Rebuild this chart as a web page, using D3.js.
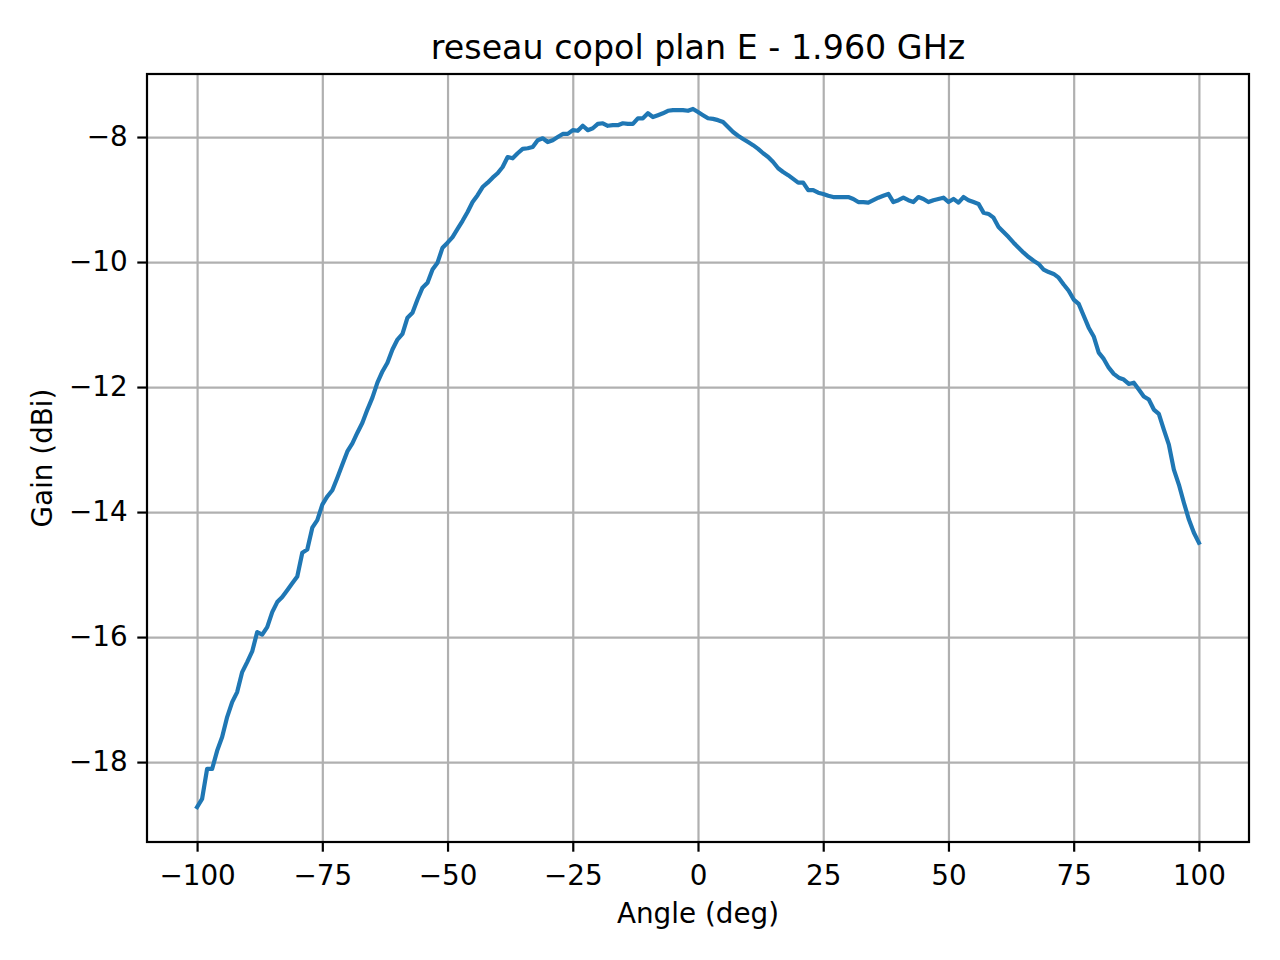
<!DOCTYPE html>
<html>
<head>
 <meta charset="UTF-8">
 <title>reseau copol plan E - 1.960 GHz</title>
 <script src="https://cdn.jsdelivr.net/npm/d3@7"></script>
 <style>
body {
  margin: 0;
  background: #fff;
}
svg {
  display: block;
  font-family: "DejaVu Sans", sans-serif;
}
.grid line {
  stroke: #b0b0b0;
  stroke-width: 2.2px;
}
.grid path {
  display: none;
}
.axis path {
  display: none;
}
.axis line {
  stroke: #000;
  stroke-width: 2.2px;
}
.axis text {
  font-family: "DejaVu Sans", sans-serif;
  font-size: 27.8px;
  fill: #000;
}
.curve {
  fill: none;
  stroke: #1f77b4;
  stroke-width: 4.2px;
  stroke-linejoin: round;
  stroke-linecap: square;
}
 </style>
</head>

<body>
 <svg id="chart" width="1280" height="960"></svg>
</body>

<script>
// angles mesurés, pas de 1 degré
var angles = d3.range(-100, 101);
// gain relevé (dBi)
var gain = [
  -18.72, -18.59, -18.11, -18.11, -17.82, -17.60, -17.28, -17.04, -16.88, -16.56,
  -16.40, -16.23, -15.92, -15.96, -15.84, -15.60, -15.44, -15.36, -15.25, -15.14,
  -15.03, -14.65, -14.60, -14.25, -14.13, -13.88, -13.75, -13.65, -13.45, -13.24,
  -13.03, -12.90, -12.73, -12.57, -12.36, -12.17, -11.93, -11.75, -11.61, -11.40,
  -11.24, -11.15, -10.89, -10.81, -10.60, -10.41, -10.33, -10.12, -10.01, -9.77,
  -9.69, -9.60, -9.47, -9.34, -9.20, -9.04, -8.93, -8.80, -8.73, -8.65,
  -8.58, -8.48, -8.32, -8.34, -8.26, -8.19, -8.18, -8.16, -8.05, -8.02,
  -8.08, -8.05, -8.00, -7.95, -7.95, -7.89, -7.90, -7.82, -7.89, -7.86,
  -7.79, -7.78, -7.82, -7.81, -7.81, -7.78, -7.79, -7.79, -7.70, -7.70,
  -7.62, -7.68, -7.65, -7.62, -7.58, -7.57, -7.57, -7.57, -7.58, -7.55,
  -7.60,
  -7.65, -7.70, -7.71, -7.73, -7.76, -7.84, -7.92, -7.98, -8.03, -8.08,
  -8.13, -8.19, -8.26, -8.32, -8.40, -8.50, -8.56, -8.61, -8.67, -8.73,
  -8.73, -8.85, -8.85, -8.89, -8.91, -8.94, -8.96, -8.96, -8.96, -8.96,
  -8.99, -9.04, -9.04, -9.05, -9.01, -8.97, -8.94, -8.91, -9.04, -9.01,
  -8.97, -9.01, -9.04, -8.96, -8.99, -9.04, -9.01, -8.99, -8.97, -9.04,
  -8.99, -9.05, -8.96, -9.01, -9.04, -9.07, -9.21, -9.23, -9.29, -9.44,
  -9.52, -9.60, -9.69, -9.77, -9.85, -9.92, -9.98, -10.03, -10.12, -10.16,
  -10.19, -10.25, -10.36, -10.46, -10.60, -10.67, -10.86, -11.05, -11.19, -11.45,
  -11.55, -11.69, -11.79, -11.85, -11.88, -11.95, -11.93, -12.04, -12.15, -12.20,
  -12.36, -12.43, -12.68, -12.92, -13.32, -13.56, -13.85, -14.12, -14.33, -14.49
];
var xTicks = [-100, -75, -50, -25, 0, 25, 50, 75, 100];
var yTicks = [-18, -16, -14, -12, -10, -8];

function drawChart(){
  var x0 = 147, x1 = 1249, y0 = 74, y1 = 842,
    svg = d3.select("#chart"),
    fmt = function(d){ return d < 0 ? "\u2212" + Math.abs(d) : String(d); };

  var pad = 0.05 * (d3.max(gain) - d3.min(gain)),
    xscale = d3.scaleLinear()
      .domain([-110, 110])
      .range([x0, x1]),
    yscale = d3.scaleLinear()
      .domain([d3.min(gain) - pad, d3.max(gain) + pad])
      .range([y1, y0]);

  // grille
  svg.append("g")
    .attr("class", "grid")
    .attr("transform", "translate(0," + y1 + ")")
    .call(d3.axisBottom(xscale).tickValues(xTicks).tickSize(-(y1 - y0)).tickFormat(""));
  svg.append("g")
    .attr("class", "grid")
    .attr("transform", "translate(" + x0 + ",0)")
    .call(d3.axisLeft(yscale).tickValues(yTicks).tickSize(-(x1 - x0)).tickFormat(""));

  svg.append("path")
    .attr("class", "curve")
    .attr("d", d3.line()
      .x(function(d, i){ return xscale(angles[i]); })
      .y(function(d){ return yscale(d); })
      (gain)
    );

  // cadre
  svg.append("rect")
    .attr("x", x0)
    .attr("y", y0)
    .attr("width", x1 - x0)
    .attr("height", y1 - y0)
    .attr("fill", "none")
    .attr("stroke", "#000")
    .attr("stroke-width", 2.2);

  svg.append("g")
    .attr("class", "axis")
    .attr("transform", "translate(0," + y1 + ")")
    .call(d3.axisBottom(xscale).tickValues(xTicks).tickSize(9.7).tickPadding(14).tickFormat(fmt));
  svg.append("g")
    .attr("class", "axis")
    .attr("transform", "translate(" + x0 + ",0)")
    .call(d3.axisLeft(yscale).tickValues(yTicks).tickSize(9.7).tickPadding(9.7).tickFormat(fmt));

  svg.append("text")
    .attr("x", (x0 + x1) / 2)
    .attr("y", 59)
    .attr("text-anchor", "middle")
    .style("font-size", "33.3px")
    .text("reseau copol plan E - 1.960 GHz");

  svg.append("text")
    .attr("x", (x0 + x1) / 2)
    .attr("y", 923)
    .attr("text-anchor", "middle")
    .style("font-size", "27.8px")
    .text("Angle (deg)");

  svg.append("text")
    .attr("transform", "translate(52," + ((y0 + y1) / 2) + ") rotate(-90)")
    .attr("text-anchor", "middle")
    .style("font-size", "27.8px")
    .text("Gain (dBi)");
}
drawChart();
</script>
</html>
